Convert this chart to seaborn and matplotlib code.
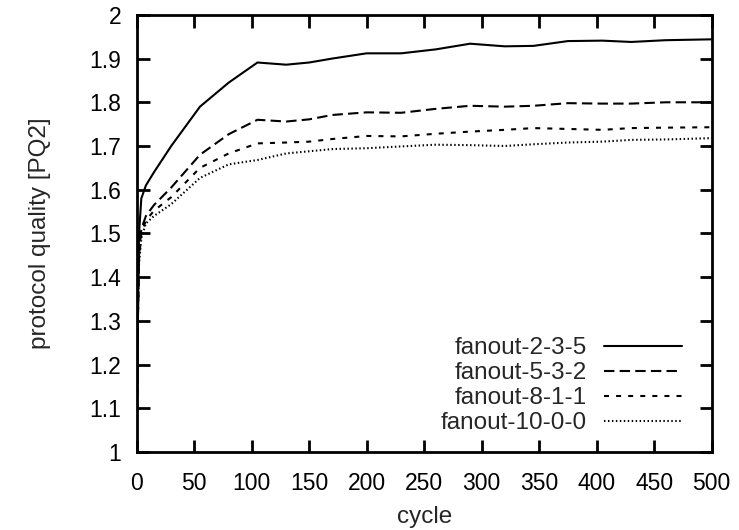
import matplotlib
matplotlib.use("Agg")
import matplotlib.pyplot as plt
from matplotlib.ticker import MultipleLocator, FormatStrFormatter
import seaborn as sns
import pandas as pd

# ==========================================
# Data
# ==========================================
cycles = [0, 1, 2, 4, 8, 15, 30, 55, 80, 105, 130, 150, 170, 200, 230,
          260, 290, 320, 345, 375, 405, 430, 460, 500]

fanout_2_3_5 = [1.02, 1.30, 1.50, 1.58, 1.61, 1.64, 1.70, 1.79, 1.845, 1.891,
                1.886, 1.891, 1.900, 1.912, 1.912, 1.921, 1.934, 1.928, 1.929,
                1.940, 1.941, 1.938, 1.942, 1.944]
fanout_5_3_2 = [1.02, 1.30, 1.45, 1.51, 1.54, 1.565, 1.605, 1.68, 1.727, 1.760,
                1.756, 1.761, 1.771, 1.777, 1.776, 1.785, 1.792, 1.790, 1.792,
                1.798, 1.797, 1.797, 1.800, 1.800]
fanout_8_1_1 = [1.02, 1.30, 1.44, 1.50, 1.53, 1.552, 1.583, 1.650, 1.683, 1.706,
                1.708, 1.710, 1.716, 1.723, 1.722, 1.728, 1.733, 1.737, 1.741,
                1.739, 1.737, 1.741, 1.742, 1.743]
fanout_10_0_0 = [1.02, 1.30, 1.43, 1.49, 1.523, 1.540, 1.567, 1.627, 1.658, 1.668,
                 1.683, 1.688, 1.693, 1.695, 1.699, 1.703, 1.702, 1.700, 1.704,
                 1.708, 1.710, 1.714, 1.715, 1.718]

series_names = ["fanout-2-3-5", "fanout-5-3-2", "fanout-8-1-1", "fanout-10-0-0"]
series_values = [fanout_2_3_5, fanout_5_3_2, fanout_8_1_1, fanout_10_0_0]

x_ticks = list(range(0, 501, 50))

# Long format for seaborn
df = pd.concat(
    [pd.DataFrame({"cycle": cycles, "quality": vals, "series": name})
     for name, vals in zip(series_names, series_values)],
    ignore_index=True,
)

# ==========================================
# Plot
# ==========================================
sns.set_theme(style="ticks")
plt.rcParams["font.family"] = ["Liberation Sans", "DejaVu Sans"]

fig = plt.figure(figsize=(7.39, 5.30), dpi=100)
ax = fig.add_axes([0.185, 0.147, 0.778, 0.825])

dashes = {
    "fanout-2-3-5": "",
    "fanout-5-3-2": (5, 2.5),
    "fanout-8-1-1": (2.4, 3.4),
    "fanout-10-0-0": (0.7, 1.2),
}
palette = {name: "black" for name in series_names}

sns.lineplot(data=df, x="cycle", y="quality", hue="series", style="series",
             hue_order=series_names, style_order=series_names,
             palette=palette, dashes=dashes, linewidth=1.5, ax=ax)

ax.set_xlim(0, 500)
ax.set_ylim(1, 2)
ax.set_xticks(x_ticks)
ax.yaxis.set_major_locator(MultipleLocator(0.1))
ax.yaxis.set_major_formatter(FormatStrFormatter("%g"))

ax.tick_params(direction="in", length=9, width=2, labelsize=16.5,
               top=True, right=True, colors="black")
ax.tick_params(axis="x", pad=14)
ax.tick_params(axis="y", pad=11)
for sp in ax.spines.values():
    sp.set_linewidth(2)
    sp.set_color("black")
    sp.set_visible(True)

ax.set_xlabel("cycle", fontsize=17.5, labelpad=8)
ax.set_ylabel("protocol quality [PQ2]", fontsize=17.5, labelpad=28)

leg = ax.legend(loc="lower right", bbox_to_anchor=(0.948, 0.041),
                frameon=False, markerfirst=False,
                fontsize=17.5, handlelength=3.2, handletextpad=0.7,
                labelspacing=0.12, borderpad=0, borderaxespad=0)

fig.savefig("out.png", dpi=100)
